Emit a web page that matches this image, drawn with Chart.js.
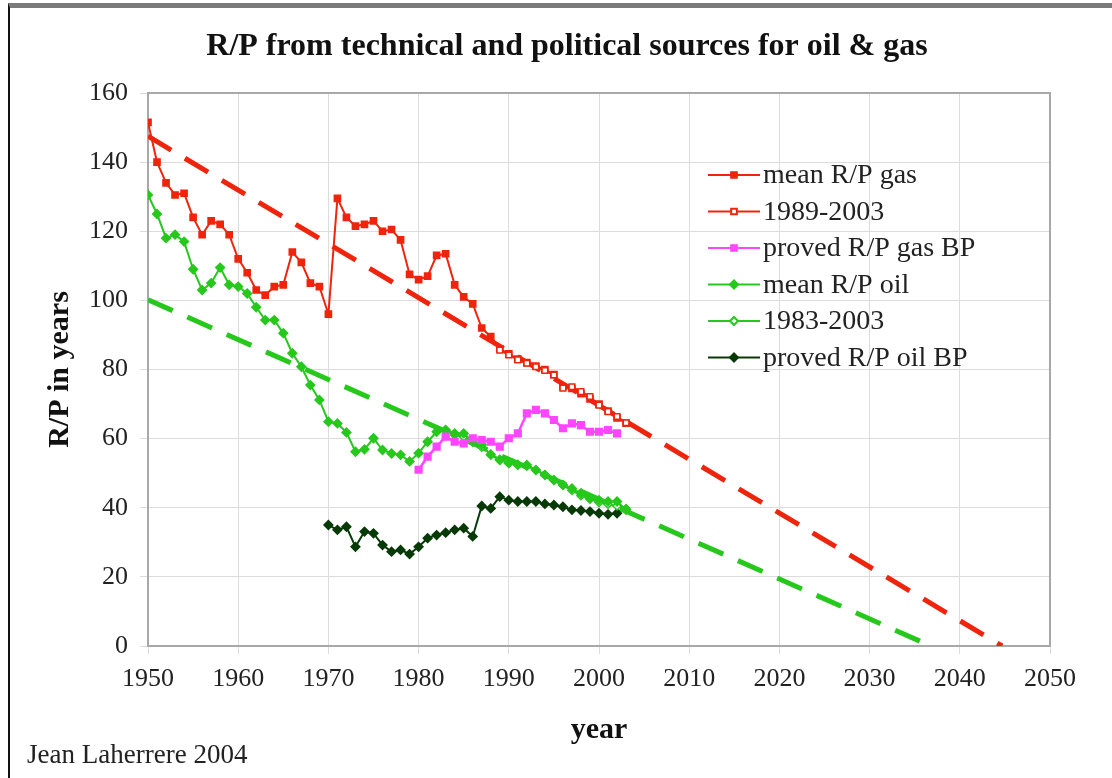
<!DOCTYPE html>
<html>
<head>
<meta charset="utf-8">
<title>R/P oil & gas</title>
<script src="https://cdn.jsdelivr.net/npm/chart.js@4.4.1/dist/chart.umd.min.js"></script>
<style>
  html, body { margin: 0; padding: 0; background: #fff; overflow: hidden; }
  #frame { position: absolute; left: 8px; top: 3px; width: 1120px; height: 790px;
           border-top: 5px solid #7a7a7a; border-left: 2px solid #111; }
  #c { position: absolute; left: 0; top: 0; }
  #credit { position: absolute; left: 27px; top: 739px; font: 27px "Liberation Serif", serif; color: #222; }
</style>
</head>
<body>
<div id="frame"></div>
<canvas id="c" width="1112" height="778"></canvas>
<div id="credit">Jean Laherrere 2004</div>
<script>
// values (R/P in years)
const gasMeanStart = 1950;
const gasMean = [151.5, 140, 134, 130.5, 131, 124, 119, 123, 122, 119,
                 112, 108, 103, 101.5, 104, 104.5, 114, 111, 105, 104,
                 96, 129.5, 124, 121.5, 122, 123, 120, 120.5, 117.5, 107.5,
                 106, 107, 113, 113.5, 104.5, 101, 99, 92, 89.5,
                 86, 84.5, 83, 82, 81, 80, 78.5, 75, 74.5, 73, 71.5, 70, 68, 66, 64.5];

const gasLateStart = 1989;  // "1989-2003"
const gasLate = [85.6, 84.2, 82.8, 81.8, 80.8, 79.7, 78.4, 74.6, 75, 73.6, 72.2, 69.7, 67.8, 66.4, 64.6];

const gasBPStart = 1980;   // proved R/P gas BP
const gasBP = [51, 54.8, 57.7, 60.6, 59.1, 58.6, 60.1, 59.6, 59.1, 57.7,
               60.1, 61.5, 67.3, 68.3, 67.3, 65.4, 63, 64.4, 63.9, 62, 62, 62.5, 61.5];

const oilMeanStart = 1950;
const oilMean = [130.5, 125, 118, 119, 117, 109, 103, 105, 109.5, 104.5,
                 104, 102, 98, 94.3, 94.3, 90.5, 84.7, 80.8, 75.5, 71.2,
                 64.9, 64.4, 61.8, 56.2, 56.9, 60.1, 56.7, 55.7, 55.3, 53.4,
                 55.8, 59.1, 62, 62.5, 61.5, 61.5, 59.1, 58.2, 55.3, 53.8,
                 52.9, 52.4, 52.4, 50.9, 49.5, 48, 46.6, 45.6, 44.2, 42.7,
                 42.2, 41.8, 41.8, 39.4];

const oilLateStart = 1983;  // "1983-2003"
const oilLate = [62.5, 61, 60.5, 59.5, 57.5, 55.5, 54, 53, 52.5, 52, 51, 49.5,
                 48, 46.5, 45, 43.5, 42.5, 41.5, 41, 40.5, 39.8];

const oilBPStart = 1970;   // proved R/P oil BP
const oilBP = [35, 33.6, 34.5, 28.7, 33.1, 32.6, 29.2, 27.3, 27.8, 26.6,
               28.7, 31.2, 32.1, 32.8, 33.6, 34.1, 31.7, 40.5, 39.8, 43.2,
               42.2, 41.8, 41.8, 41.8, 41.1, 40.8, 40.3, 39.4, 39.2, 38.9,
               38.4, 38.1, 38.4];

// straight-line trends (year, R/P)
const gasTrendYears = [1950, 2044.7];
const gasTrendValues = [147.5, 0];
const oilTrendYears = [1950, 2036.8];
const oilTrendValues = [100.2, 0];

const xTicks = [1950, 1960, 1970, 1980, 1990, 2000, 2010, 2020, 2030, 2040, 2050];

const chartTitle = 'R/P from technical and political sources for oil & gas';

const RED = 'rgb(238,36,12)';
const GREEN = 'rgb(38,200,28)';
const PINK = 'rgb(255,70,255)';
const DKGREEN = 'rgb(8,58,8)';

function pts(start, vals) {
  return vals.map((v, i) => ({ x: start + i, y: v }));
}
function pairs(xs, ys) {
  return xs.map((x, i) => ({ x: x, y: ys[i] }));
}

const serif = '"Liberation Serif", "Times New Roman", serif';

const datasets = [
  { label: 'mean R/P gas', data: pts(gasMeanStart, gasMean), borderColor: RED, backgroundColor: RED,
    pointStyle: 'rect', pointRadius: 4, borderWidth: 2, order: 3 },
  { label: '1989-2003', data: pts(gasLateStart, gasLate), borderColor: RED, backgroundColor: '#fff',
    pointBackgroundColor: '#fff', pointBorderColor: RED, pointBorderWidth: 1.5,
    pointStyle: 'rect', pointRadius: 4, borderWidth: 2, order: 2 },
  { label: 'proved R/P gas BP', data: pts(gasBPStart, gasBP), borderColor: PINK, backgroundColor: PINK,
    pointStyle: 'rect', pointRadius: 4, borderWidth: 2.5, order: 4 },
  { label: 'mean R/P oil', data: pts(oilMeanStart, oilMean), borderColor: GREEN, backgroundColor: GREEN,
    pointStyle: 'rectRot', pointRadius: 4, borderWidth: 2, order: 5 },
  { label: '1983-2003', data: pts(oilLateStart, oilLate), borderColor: GREEN, backgroundColor: '#fff',
    pointBackgroundColor: '#fff', pointBorderColor: GREEN, pointBorderWidth: 1.5,
    pointStyle: 'rectRot', pointRadius: 4, borderWidth: 2, order: 5 },
  { label: 'proved R/P oil BP', data: pts(oilBPStart, oilBP), borderColor: DKGREEN, backgroundColor: DKGREEN,
    pointStyle: 'rectRot', pointRadius: 4, borderWidth: 2, order: 6 },
  { label: 'gas trend', data: pairs(gasTrendYears, gasTrendValues), borderColor: RED, borderWidth: 5,
    borderDash: [27, 16], pointRadius: 0, order: 10, noLegend: true },
  { label: 'oil trend', data: pairs(oilTrendYears, oilTrendValues), borderColor: GREEN, borderWidth: 5,
    borderDash: [27, 16], pointRadius: 0, order: 10, noLegend: true }
];

// legend drawn inside the plot like the original
const innerLegend = {
  id: 'innerLegend',
  afterDraw(chart) {
    const ctx = chart.ctx;
    const x0 = 708, y0 = 175, step = 36.5;
    ctx.save();
    ctx.font = '28px ' + serif;
    ctx.textBaseline = 'middle';
    ctx.textAlign = 'left';
    let row = 0;
    chart.data.datasets.forEach(ds => {
      if (ds.noLegend) return;
      const y = y0 + row * step;
      ctx.strokeStyle = ds.borderColor;
      ctx.lineWidth = 2;
      ctx.setLineDash([]);
      ctx.beginPath();
      ctx.moveTo(x0, y);
      ctx.lineTo(x0 + 52, y);
      ctx.stroke();
      ctx.fillStyle = ds.pointBackgroundColor || ds.backgroundColor;
      ctx.strokeStyle = ds.pointBorderColor || ds.borderColor;
      Chart.helpers.drawPoint(ctx, { pointStyle: ds.pointStyle, radius: 4, rotation: 0,
        borderWidth: ds.pointBorderWidth || 1 }, x0 + 26, y);
      ctx.fillStyle = '#222';
      ctx.fillText(ds.label, x0 + 55, y + 1);
      row++;
    });
    ctx.restore();
  }
};

// title placed where the original has it (slightly right of the canvas centre)
const topTitle = {
  id: 'topTitle',
  afterDraw(chart) {
    const ctx = chart.ctx;
    ctx.save();
    ctx.font = 'bold 32px ' + serif;
    ctx.fillStyle = '#111';
    ctx.textAlign = 'center';
    ctx.textBaseline = 'middle';
    ctx.fillText(chartTitle, 567, 47);
    ctx.restore();
  }
};

const plotFrame = {
  id: 'plotFrame',
  beforeDatasetsDraw(chart) {
    const a = chart.chartArea, ctx = chart.ctx;
    ctx.save();
    ctx.strokeStyle = '#a8a8a8';
    ctx.lineWidth = 2;
    ctx.strokeRect(a.left, a.top, a.right - a.left, a.bottom - a.top);
    ctx.restore();
  }
};

new Chart(document.getElementById('c'), {
  type: 'line',
  data: { datasets: datasets },
  plugins: [plotFrame, innerLegend, topTitle],
  options: {
    responsive: false,
    animation: false,
    devicePixelRatio: 1,
    layout: { padding: { left: 0, right: 62, top: 93, bottom: 22 } },
    elements: { line: { tension: 0, fill: false } },
    plugins: {
      legend: { display: false },
      tooltip: { enabled: false },
      title: { display: false }
    },
    scales: {
      x: {
        type: 'linear', min: 1950, max: 2050,
        afterBuildTicks: s => { s.ticks = xTicks.map(v => ({ value: v })); },
        afterFit: s => { s.height = 110; },
        ticks: { color: '#222', font: { family: serif, size: 26 }, padding: 10, maxRotation: 0,
                 callback: v => String(v) },
        grid: { color: '#dcdcdc', lineWidth: 1, tickLength: 8 },
        border: { display: false },
        title: { display: true, text: 'year', color: '#111',
                 font: { family: serif, size: 30, weight: 'bold' }, padding: { top: 0, bottom: 8 } }
      },
      y: {
        min: 0, max: 160,
        afterFit: s => { s.width = 148; },
        ticks: { stepSize: 20, color: '#222', font: { family: serif, size: 26 }, padding: 12 },
        grid: { color: '#dcdcdc', lineWidth: 1, tickLength: 8 },
        border: { display: false },
        title: { display: true, text: 'R/P in years', color: '#111',
                 font: { family: serif, size: 30, weight: 'bold' }, padding: { top: 42, bottom: 0 } }
      }
    }
  }
});
</script>
</body>
</html>
